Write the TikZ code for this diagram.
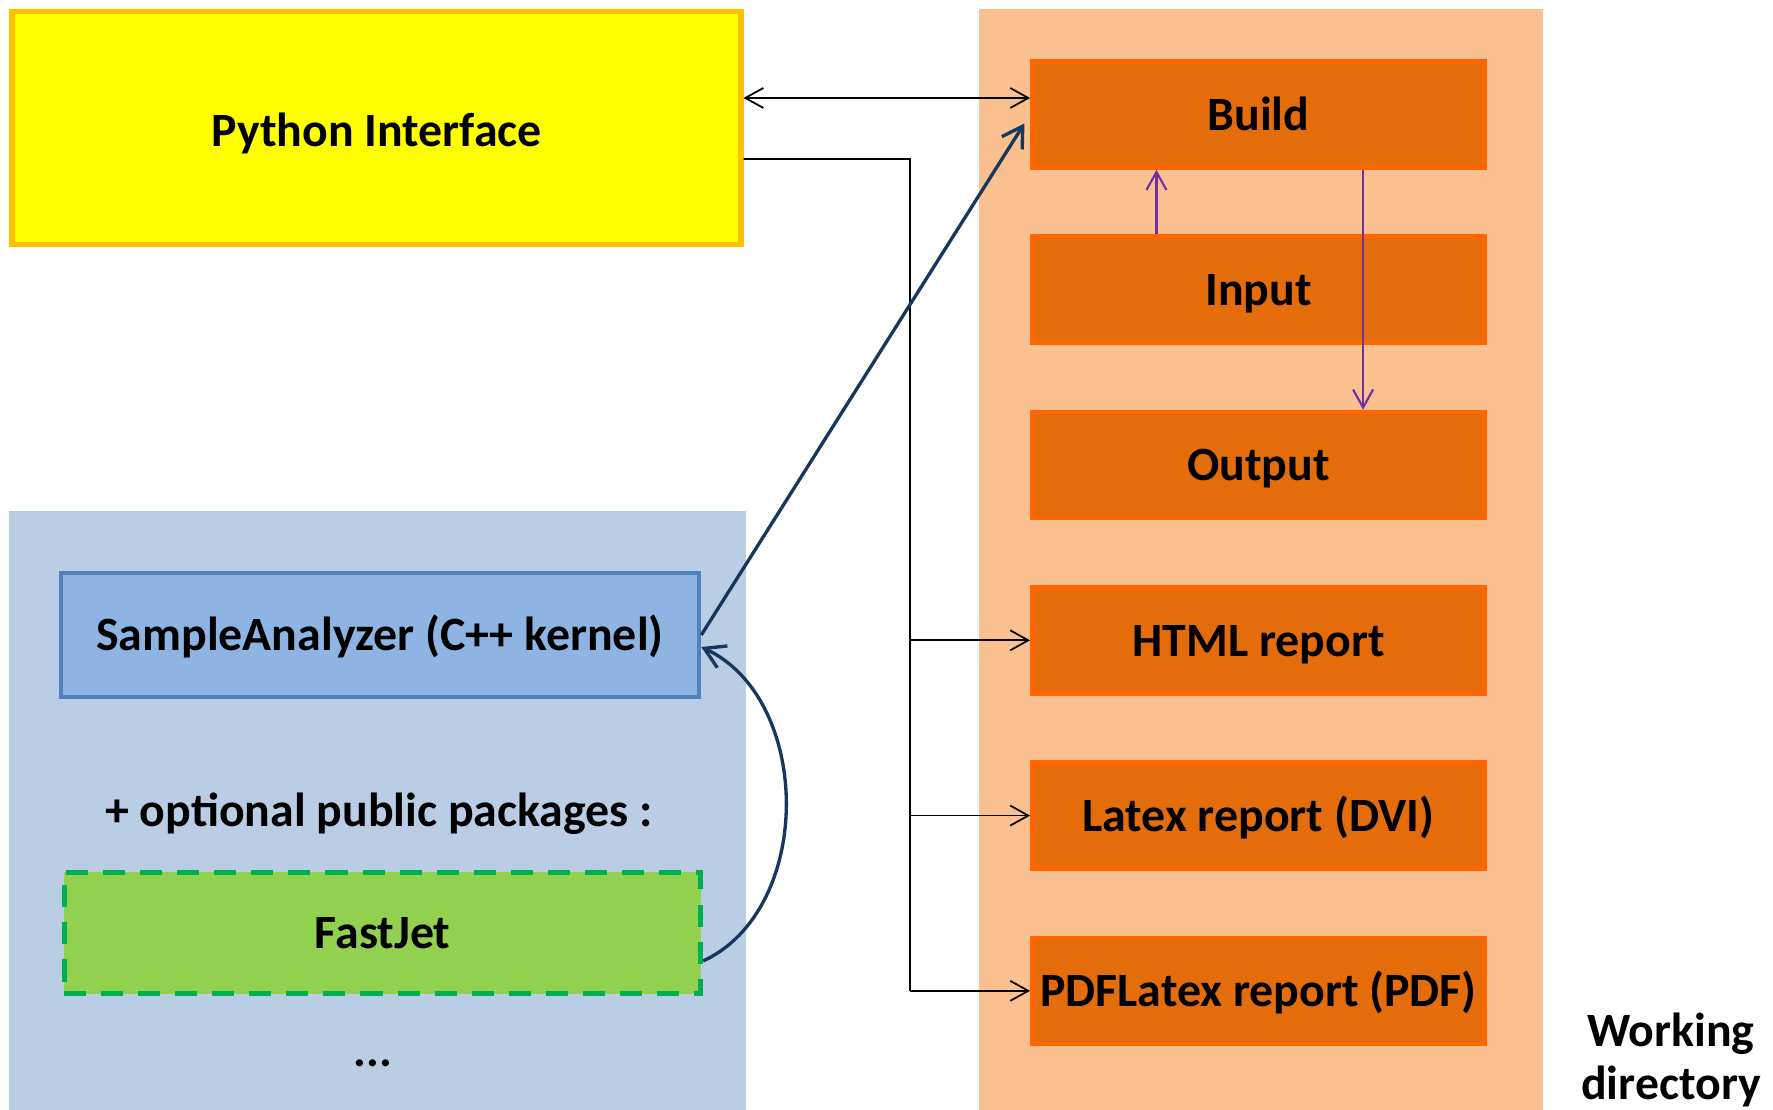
\documentclass[tikz,border=0pt]{standalone}
\usepackage{fontspec}
\setmainfont{Carlito}
\usepackage{tikz}
\usetikzlibrary{arrows.meta,calc,positioning}
\tikzset{every picture/.style={
  >={Straight Barb[length=1.8mm,width=2mm]}   % open arrow tips.
  }
}

\definecolor{pyfill}{HTML}{FFFF00}
\definecolor{pyline}{HTML}{FFC000}
\definecolor{wdbg}{HTML}{FAC090}
\definecolor{wdfill}{HTML}{E46C0A}
\definecolor{wdline}{HTML}{FF6600}
\definecolor{kernbg}{HTML}{B9CDE5}
\definecolor{safill}{HTML}{8DB4E2}
\definecolor{saline}{HTML}{4F81BD}
\definecolor{jetfill}{HTML}{92D050}
\definecolor{jetline}{HTML}{00B050}
\definecolor{navy}{HTML}{17375E}
\definecolor{violet}{HTML}{7030A0}

\begin{document}
\begin{tikzpicture}[x=0.01cm,y=-0.01cm,
    font=\bfseries\fontsize{13.6}{15}\selectfont,
    box/.style={
      text height=11.8pt,
      text depth=2.8pt,
      inner xsep=2pt
    },
    wd/.style={
      box,
      draw=wdline,
      fill=wdfill,
      line width=1.3pt,
      minimum width=4.52cm,
      minimum height=1.06cm
    },
    link/.style={->,line width=0.5pt}
  ]
    \useasboundingbox (0,0) rectangle (1773,1110);

    % Backgrounds: working directory and kernel area.
    \fill[wdbg] (979,9) rectangle (1543,1110);
    \fill[kernbg] (9,511) rectangle (746,1110);

    \node[box,text height=13.6pt,draw=pyline,fill=pyfill,line width=1.6pt,
      minimum width=7.28cm,minimum height=2.33cm] (python) at (376.5,128)
      {Python Interface};

    % The working directory files.
    \node[wd] (build) at (1258.5,114.5) {Build};
    \begin{scope}[
      node distance=0.646cm
      ]
      \node[wd,below=of build] (input) {Input};
      \node[wd,below=of input] (output) {Output};
      \node[wd,below=of output] (html) {HTML report};
      \node[wd,below=of html] (latex) {Latex report (DVI)};
      \node[wd,below=of latex] (pdf) {PDFLatex report (PDF)};
    \end{scope}
    \node[align=center] (workdir) at (1671,1060) {Working\\directory};

    % The kernel and its packages.
    \node[box,draw=saline,fill=safill,line width=1.2pt,minimum width=6.38cm,
      minimum height=1.24cm] (sample) at (380,635)
      {SampleAnalyzer (C++ kernel)};
    \node (optional) at (379,814) {+ optional public packages :};
    \node[box,draw=jetline,fill=jetfill,line width=1.4pt,
      dash pattern=on 0.22cm off 0.15cm,minimum width=6.36cm,
      minimum height=1.21cm] (fastjet) at (382.5,933) {FastJet};
    \node (more) at (373,1063) {...};

    % Python interface <-> build.
    \draw[link,<->] ([yshift=0.3cm]python.east) --
      ([yshift=0.3cm]python.east -| build.west);

    % Python interface to the reports.
    \coordinate (bus) at (910,159);
    \draw[line width=0.5pt] ([yshift=-0.31cm]python.east) -- (bus)
      -- (bus |- pdf.west);
    \foreach \r in {html,latex,pdf} {
      \draw[link] (bus |- \r.west) -- (\r.west);
    };

    % Kernel links.
    \draw[->,navy,line width=0.95pt,
      >={Straight Barb[length=2mm,width=2.4mm]},shorten >=3pt]
      (sample.east) -- (build.west);
    \draw[->,navy,line width=0.95pt,
      >={Straight Barb[length=2mm,width=2.4mm]}]
      ([yshift=-0.28cm]fastjet.east) to[out=25,in=-25]
      ([yshift=-0.12cm]sample.east);

    % Build, input and output.
    \draw[link,violet,line width=0.6pt] ([xshift=-1.02cm]input.north) --
      ([xshift=-1.02cm]build.south);
    \draw[link,violet,line width=0.6pt] ([xshift=1.045cm]build.south) --
      ([xshift=1.045cm]output.north);
  \end{tikzpicture}
\end{document}
